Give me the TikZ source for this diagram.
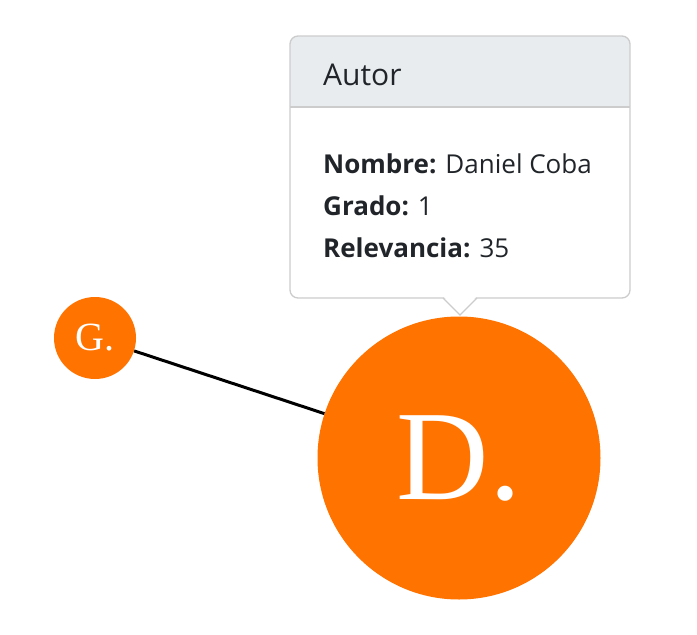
\documentclass[tikz,border=0pt]{standalone}
\usepackage{fontspec}
\setmainfont{Liberation Serif}
\newfontfamily\uifont{Open Sans}
\definecolor{nodeorange}{HTML}{FF7300}
\definecolor{tipborder}{HTML}{CCCCCC}
\definecolor{tiphead}{HTML}{E9ECEF}
\definecolor{tiptext}{HTML}{212529}
\tikzset{
  author/.style={circle, fill=nodeorange, draw=none, text=white, inner sep=0pt},
  link/.style={line width=3pt, black},
  tipline/.style={tipborder, line width=1.3pt},
  tiptxt/.style={anchor=base west, inner sep=0pt, text=tiptext},
  bodyfont/.style={font=\uifont\fontsize{26}{30}\selectfont},
}
\begin{document}
\begin{tikzpicture}[x=1pt,y=-1pt]
\useasboundingbox (0,0) rectangle (697,635);
% tooltip
\fill[white] (290,36) rectangle (630,298);
\begin{scope}
  \clip[rounded corners=8pt] (290,36) rectangle (630,298);
  \fill[tiphead] (290,36) rectangle (630,107);
\end{scope}
\draw[tipline] (290,107) -- (630,107);
\draw[tipline, rounded corners=8pt] (290,36) rectangle (630,298);
\fill[white] (443,296) -- (477,296) -- (460,314) -- cycle;
\draw[tipline, line join=miter] (443,298) -- (460,315) -- (477,298);
\node[tiptxt, font=\uifont\fontsize{30}{34}\selectfont] (head) at (323,85) {Autor};
\node[tiptxt, bodyfont] (l1) at (323,173) {\textbf{Nombre:} Daniel Coba};
\node[tiptxt, bodyfont] (l2) at (323,215) {\textbf{Grado:} 1};
\node[tiptxt, bodyfont] (l3) at (323,257) {\textbf{Relevancia:} 35};
% graph
\node[author, minimum size=82pt, font=\fontsize{40}{42}\selectfont] (G) at (95,338) {G.};
\node[author, minimum size=283pt, font=\fontsize{128}{130}\selectfont] (D) at (459,458) {D.};
\draw[link] (G) -- (D);
\end{tikzpicture}
\end{document}
